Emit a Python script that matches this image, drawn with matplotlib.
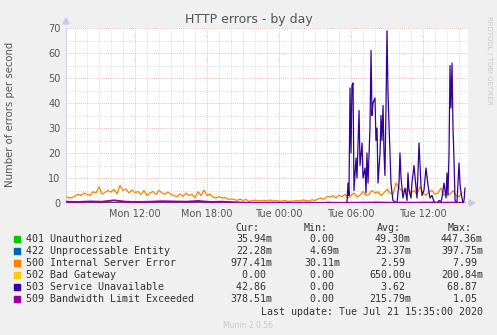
import matplotlib

matplotlib.use("Agg")
import matplotlib.pyplot as plt  # noqa: E402
import numpy as np  # noqa: E402
from matplotlib.patches import Rectangle, Polygon  # noqa: E402

W, H = 497, 335

# ---- data (hours since Mon 00:00) ----
t_start = 6.25
step_500 = 0.25
err_500 = [
    2.5, 2.0, 2.2, 2.8, 3.5, 3.0, 4.0, 3.4, 3.0, 4.5, 4.0, 6.5,
    3.5, 4.2, 5.0, 4.4, 5.5, 3.6, 7.0, 5.0, 5.6, 4.0, 5.2, 4.1,
    4.6, 3.4, 5.0, 3.0, 4.0, 4.6, 3.4, 5.1, 4.0, 3.5, 4.4, 3.4,
    3.0, 2.5, 3.6, 2.6, 4.0, 3.0, 3.5, 2.1, 4.5, 3.0, 5.2, 3.0,
    3.6, 2.4, 2.0, 2.6, 2.0, 2.2, 1.5, 1.6, 1.5, 1.0, 1.6, 1.0,
    1.4, 0.6, 1.0, 1.1, 1.0, 0.8, 1.1, 0.8, 1.2, 0.8, 1.0, 0.7,
    0.8, 1.0, 0.6, 0.8, 0.8, 1.0, 0.8, 1.2, 1.0, 0.8, 1.3, 1.0,
    1.6, 2.0, 1.5, 2.6, 2.4, 3.0, 2.0, 3.1, 2.5, 3.5, 2.0, 3.0,
    4.0, 2.5, 3.1, 4.6, 3.0, 3.5, 5.0, 4.0, 4.5, 3.0, 4.1, 5.5,
    4.0, 3.5, 8.0, 6.0, 5.0, 4.5, 6.1, 4.0, 5.0, 3.5, 6.5, 4.0,
    3.0, 4.5, 5.0, 3.5, 4.0, 6.0, 3.0, 4.1, 3.5, 5.0, 3.0, 2.5,
    4.0,
]

t_503 = [
    6.25, 29.5, 29.67, 29.75, 29.83, 29.92, 30.0, 30.08, 30.17, 30.25,
    30.42, 30.5, 30.67, 30.75, 30.92, 31.0, 31.17, 31.25, 31.33, 31.42,
    31.58, 31.67, 31.75, 31.83, 32.0, 32.08, 32.17, 32.25, 32.42, 32.5,
    32.58, 32.67, 32.75, 32.83, 32.92, 33.0, 33.08, 33.17, 33.25, 33.33,
    33.42, 33.5, 33.67, 33.83, 34.0, 34.08, 34.17, 34.33, 34.5, 34.67,
    34.75, 34.83, 35.0, 35.08, 35.25, 35.42, 35.5, 35.67, 35.83, 35.92,
    36.08, 36.25, 36.42, 36.58, 36.75, 36.92, 37.17, 37.33, 37.5, 37.58,
    37.75, 37.92, 38.0, 38.08, 38.17, 38.25, 38.33, 38.42, 38.5, 38.58,
    38.67, 38.83, 39.0, 39.08, 39.17, 39.33, 39.42, 39.5,
]
err_503 = [
    0.0, 0.0, 0.5, 8.0, 3.0, 46.0, 20.0, 47.0, 48.0, 5.0,
    18.0, 10.0, 37.0, 15.0, 24.0, 10.0, 14.0, 4.0, 20.0, 8.0,
    30.0, 61.0, 35.0, 40.0, 42.0, 25.0, 30.0, 8.0, 20.0, 35.0,
    25.0, 39.0, 20.0, 11.0, 40.0, 68.87, 45.0, 31.0, 20.0, 8.0,
    4.0, 1.0, 0.5, 0.0, 8.0, 20.0, 10.0, 2.0, 6.0, 1.0,
    12.0, 5.0, 2.0, 8.0, 15.0, 6.0, 2.0, 24.0, 7.0, 3.0,
    5.0, 14.0, 7.0, 2.0, 3.0, 0.5, 0.0, 1.0, 0.5, 2.0,
    8.0, 2.0, 12.0, 3.0, 20.0, 55.0, 38.0, 56.0, 30.0, 18.0,
    1.0, 0.0, 16.0, 8.0, 4.0, 0.0, 1.0, 6.0,
]

step_509 = 1.0
err_509 = [
    0.5, 0.4, 0.6, 0.5, 1.05, 0.5, 0.4, 0.5, 0.7, 0.6, 0.5, 0.8,
    0.4, 0.5, 0.3, 0.1, 0.05, 0.1, 0.05, 0.05, 0.1, 0.05, 0.1, 0.05,
    0.1, 0.15, 0.2, 0.1, 0.15, 0.1, 0.2, 0.1, 0.15, 0.1,
]

t_401 = [6.25, 16.1, 16.2, 16.3, 36.7, 36.8, 36.9, 39.5]
err_401 = [0.0, 0.0, 0.3, 0.0, 0.0, 0.45, 0.0, 0.0]
t_422 = [6.25, 28.0, 28.1, 28.2, 39.5]
err_422 = [0.05, 0.05, 0.4, 0.05, 0.05]
t_502 = [6.25, 34.4, 34.5, 34.6, 39.5]
err_502 = [0.0, 0.0, 0.2, 0.0, 0.0]

tick_hours = [12, 18, 24, 30, 36]
tick_labels = ["Mon 12:00", "Mon 18:00", "Tue 00:00", "Tue 06:00", "Tue 12:00"]

legend_names = [
    "401 Unauthorized",
    "422 Unprocessable Entity",
    "500 Internal Server Error",
    "502 Bad Gateway",
    "503 Service Unavailable",
    "509 Bandwidth Limit Exceeded",
]
legend_colors = ["#00CC00", "#0066B3", "#FF8000", "#FFCC00", "#330099", "#990099"]
cur_vals = ["35.94m", "22.28m", "977.41m", "0.00 ", "42.86 ", "378.51m"]
min_vals = ["0.00 ", "4.69m", "30.11m", "0.00 ", "0.00 ", "0.00 "]
avg_vals = ["49.30m", "23.37m", "2.59 ", "650.00u", "3.62 ", "215.79m"]
max_vals = ["447.36m", "397.75m", "7.99 ", "200.84m", "68.87 ", "1.05 "]


def fx(px):
    return px / W


def fy(py):
    return 1 - py / H


fig = plt.figure(figsize=(W / 100, H / 100), dpi=100, facecolor="#F0F0F0")
x0, x1, ytop, ybot = 66, 468, 28, 203
ax = fig.add_axes([fx(x0), fy(ybot), (x1 - x0) / W, (ybot - ytop) / H])
ax.set_facecolor("white")

t500 = t_start + step_500 * np.arange(len(err_500))
t509 = t_start + step_509 * np.arange(len(err_509))
lw = 0.9
ax.plot(t_401, err_401, color=legend_colors[0], lw=lw)
ax.plot(t_422, err_422, color=legend_colors[1], lw=lw)
ax.plot(t500, err_500, color=legend_colors[2], lw=lw)
ax.plot(t_502, err_502, color=legend_colors[3], lw=lw)
ax.plot(t_503, err_503, color=legend_colors[4], lw=lw)
ax.plot(t509, err_509, color=legend_colors[5], lw=1.4)

t_end = t_start + (x1 - x0) / 12.0
ax.set_xlim(t_start, t_end)
ax.set_ylim(0, 70)

# munin-style grid: grey minor, reddish major
for h in np.arange(7, 40):
    major = h % 6 == 0
    ax.axvline(h, color="#E4A8A8" if major else "#CFCFCF", lw=0.6,
               ls=(0, (1, 1.5)), zorder=0)
for v in range(5, 71, 5):
    major = v % 10 == 0
    ax.axhline(v, color="#E4A8A8" if major else "#CFCFCF", lw=0.6,
               ls=(0, (1, 1.5)), zorder=0)

ax.set_xticks(tick_hours)
ax.set_xticklabels(tick_labels)
ax.set_yticks(range(0, 71, 10))
ax.tick_params(length=0, labelsize=7, colors="#555555", pad=4)
for s in ax.spines.values():
    s.set_visible(False)
ax.axhline(0, color="#C8C8E0", lw=0.8, zorder=1)
ax.axvline(t_start, color="#D0D0E8", lw=0.8, zorder=1)

# axis arrows
fig.add_artist(Polygon([[fx(63), fy(24)], [fx(69), fy(24)], [fx(66), fy(18)]],
                       closed=True, color="#C8C8F0", transform=fig.transFigure))
fig.add_artist(Polygon([[fx(469), fy(200)], [fx(469), fy(206)], [fx(475), fy(203)]],
                       closed=True, color="#C8C8F0", transform=fig.transFigure))

fig.text(fx(249), fy(19), "HTTP errors - by day", ha="center", va="center",
         fontsize=9, color="#555555")
fig.text(fx(10), fy(114), "Number of errors per second", rotation=90,
         ha="center", va="center", fontsize=7.3, color="#555555")
fig.text(fx(489), fy(16), "RRDTOOL / TOBI OETIKER", rotation=270, ha="center",
         va="top", fontsize=5, color="#C8C8C8")

mono = "DejaVu Sans Mono"
fs = 7.2
head_x = [259, 328, 401, 472]
for hx, h in zip(head_x, ["Cur:", "Min:", "Avg:", "Max:"]):
    fig.text(fx(hx), fy(228), h, ha="right", va="center", family=mono,
             fontsize=fs, color="#333333")

col_x = [272, 340, 411, 483]
for i, name in enumerate(legend_names):
    y = 239 + 12 * i
    fig.add_artist(Rectangle((fx(14), fy(y + 3)), 6 / W, 6 / H,
                             color=legend_colors[i], transform=fig.transFigure))
    fig.text(fx(26), fy(y), name, ha="left", va="center", family=mono,
             fontsize=fs, color="#333333")
    for cx, vals in zip(col_x, [cur_vals, min_vals, avg_vals, max_vals]):
        fig.text(fx(cx), fy(y), vals[i], ha="right", va="center", family=mono,
                 fontsize=fs, color="#333333")

fig.text(fx(483), fy(312), "Last update: Tue Jul 21 15:35:00 2020", ha="right",
         va="center", family=mono, fontsize=fs, color="#333333")
fig.text(fx(248), fy(325), "Munin 2.0.56", ha="center", va="center",
         fontsize=5.5, color="#C8C8C8")

fig.savefig("out.png", dpi=100, facecolor=fig.get_facecolor())
